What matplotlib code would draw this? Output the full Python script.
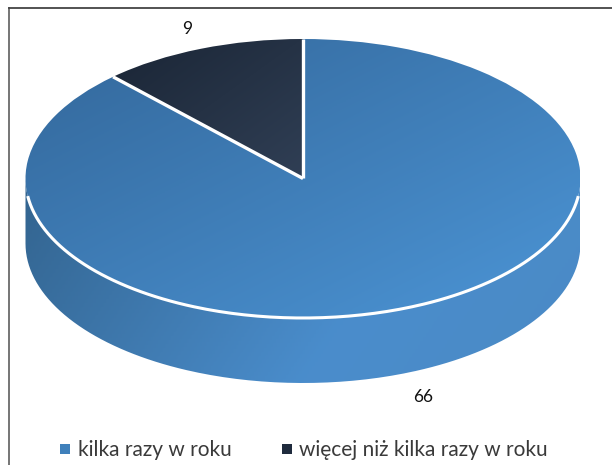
import numpy as np
import matplotlib
matplotlib.use('Agg')
import matplotlib.pyplot as plt
from matplotlib.colors import LinearSegmentedColormap
from matplotlib.patches import PathPatch
from matplotlib.path import Path

# data
labels = ['kilka razy w roku', 'więcej niż kilka razy w roku']
values = [66, 9]
value_labels = ['66', '9']

W, H = 612, 465
cx, cy, rx, ry = 303, 178.5, 277.5, 139.5
depth = 65 / ry

blue = LinearSegmentedColormap.from_list('b', ['#33679a', '#4c95d6'])
dark = LinearSegmentedColormap.from_list('d', ['#1a2535', '#303f55'])
side = LinearSegmentedColormap.from_list('s', [(0, '#33648f'), (0.6, '#4a8dcc'), (1, '#4b8ac5')])

plt.rcParams['font.family'] = ['Lato', 'DejaVu Sans']
fig = plt.figure(figsize=(W / 100, H / 100), dpi=100)
ax = fig.add_axes([0, 0, 1, 1])

# top of the pie, unit circle stretched by the axes limits
wedges, _ = ax.pie(values, startangle=90, counterclock=False, radius=1,
                   colors=['none', 'none'])
ax.set_aspect('auto')
xlim = (-cx / rx, (W - cx) / rx)
ylim = ((cy - H) / ry, cy / ry)
ax.set_xlim(xlim)
ax.set_ylim(ylim)
ax.axis('off')


def gradient(cmap, clip, ext, zorder, angle=0.5):
    yy, xx = np.mgrid[0:1:200j, 0:1:200j]
    g = xx * angle + yy * (1 - angle)
    im = ax.imshow(g, cmap=cmap, extent=ext, origin='upper', aspect='auto',
                   vmin=0, vmax=1, zorder=zorder, interpolation='bilinear')
    im.set_clip_path(clip)
    return im


# rim: lower half of the ellipse shifted down
t = np.linspace(np.pi, 2 * np.pi, 200)
rim_x = np.concatenate([np.cos(t), np.cos(t[::-1])])
rim_y = np.concatenate([np.sin(t), np.sin(t[::-1]) - depth])
rim = PathPatch(Path(np.column_stack([rim_x, rim_y]), closed=False), fc='none', ec='none')
ax.add_patch(rim)
gradient(side, rim, [-1, 1, -1 - depth, 0], 1, angle=0.8)

# top slices
gradient(blue, wedges[0], [-1, 1, -1, 1], 3)
gradient(dark, wedges[1], [-0.7, 0, 0, 1], 3)

# white edge between top and rim
tt = t[8:-8]
ax.plot(np.cos(tt), np.sin(tt), color='white', lw=2.2, zorder=4, solid_capstyle='butt')

# white separators along the slice borders
angles = np.deg2rad(90 - np.cumsum([0] + values[:-1]) / sum(values) * 360)
for a in angles:
    ax.plot([0, np.cos(a)], [0, np.sin(a)], color='white', lw=2.4, zorder=4,
            solid_capstyle='butt')

ax.set_xlim(xlim)
ax.set_ylim(ylim)


def fx(x):
    return x / W


def fy(y):
    return 1 - y / H


# value labels
fig.text(fx(423), fy(397), value_labels[0], fontsize=12.5, ha='center', va='center', color='#111111')
fig.text(fx(187), fy(29), value_labels[1], fontsize=12.5, ha='center', va='center', color='#111111')

# frame, left and top only
fig.add_artist(plt.Line2D([fx(8.5), fx(8.5)], [fy(8.5), 0], color='#6a6a6a', lw=1.3))
fig.add_artist(plt.Line2D([fx(8.5), 1], [fy(8.5), fy(8.5)], color='#444444', lw=1.3))

# legend
leg_ax = fig.add_axes([0, 0, 1, 1], facecolor='none')
leg_ax.set_xlim(0, W)
leg_ax.set_ylim(H, 0)
leg_ax.axis('off')
for lab, col, sx, tx in zip(labels, ['#3f80bb', '#1f2b3d'], [65, 287], [78, 299]):
    leg_ax.scatter([sx], [449], marker='s', s=52, color=col, linewidths=0)
    leg_ax.text(tx, 450, lab, fontsize=15, va='center', color='#3a3a3a')

fig.savefig('out.png', dpi=100, facecolor='white')
